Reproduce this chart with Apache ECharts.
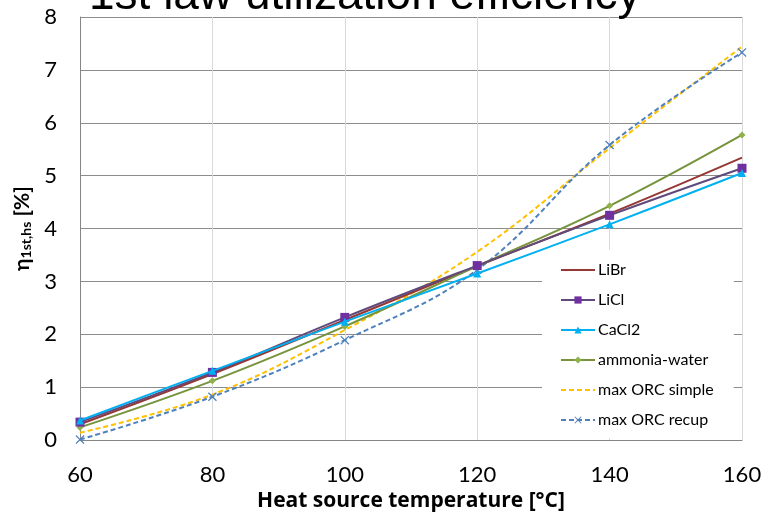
<!DOCTYPE html>
<html>
<head>
<meta charset="utf-8">
<script src="https://cdn.jsdelivr.net/npm/echarts@6/dist/echarts.min.js"></script>
<style>
html,body{margin:0;padding:0;background:#fff;}
#chart{width:765px;height:517px;}
</style>
</head>
<body>
<div id="chart"></div>
<script>
const temperatures = [60, 80, 100, 120, 140, 160];
const xTicks = [60, 80, 100, 120, 140, 160];
const yTicks = [0, 1, 2, 3, 4, 5, 6, 7, 8];
const libr = [0.30, 1.25, 2.27, 3.29, 4.28, 5.34];
const licl = [0.34, 1.28, 2.32, 3.30, 4.25, 5.14];
const cacl2 = [0.37, 1.31, 2.24, 3.15, 4.08, 5.05];
const ammoniaWater = [0.24, 1.12, 2.15, 3.29, 4.43, 5.77];
const orcSimple = [0.14, 0.86, 2.08, 3.56, 5.52, 7.44];
const orcRecup = [0.01, 0.82, 1.89, 3.22, 5.58, 7.33];
const seriesNames = ['LiBr', 'LiCl', 'CaCl2', 'ammonia-water', 'max ORC simple', 'max ORC recup'];

const pairs = (ys) => temperatures.map((t, i) => [t, ys[i]]);
const xSym = 'path://M0,1L1,0L5,4L9,0L10,1L6,5L10,9L9,10L5,6L1,10L0,9L4,5Z';
const font = 'Lato';
const noMarker = ['LiBr', 'max ORC simple'];

const chart = echarts.init(document.getElementById('chart'), null, {renderer: 'canvas'});
chart.setOption({
  animation: false,
  backgroundColor: '#fff',
  title: {
    text: '1st law utilization efficiency',
    left: 84, top: -32,
    textStyle: {fontFamily: 'Liberation Sans', fontSize: 46, fontWeight: 'normal', color: '#000'}
  },
  grid: {left: 80, right: 23, top: 17, bottom: 75, containLabel: false},
  legend: {
    orient: 'vertical',
    left: 542, top: 250,
    padding: [12, 20, 10, 18],
    backgroundColor: '#fff',
    itemWidth: 34, itemHeight: 9, itemGap: 14,
    textStyle: {fontFamily: font, fontSize: 16, lineHeight: 16, color: '#000', padding: [0, 0, 0, -2]},
    data: seriesNames.map(n => noMarker.includes(n) ? {name: n, itemStyle: {opacity: 0}} : {name: n})
  },
  xAxis: {
    type: 'value', min: 60, max: 160, interval: 20,
    name: 'Heat source temperature [°C]',
    nameLocation: 'middle', nameGap: 44,
    nameTextStyle: {fontFamily: 'Open Sans', fontSize: 21, fontWeight: 'bold', color: '#000'},
    axisLine: {show: true, lineStyle: {color: '#868686', width: 1}},
    axisTick: {show: false},
    axisLabel: {margin: 24, fontFamily: font, fontSize: 22, color: '#000',
      formatter: (v) => xTicks.includes(v) ? String(v) : ''},
    splitLine: {show: true, lineStyle: {color: '#d9d9d9', width: 1}}
  },
  yAxis: {
    type: 'value', min: 0, max: 8, interval: 1,
    name: '{a|η}{b|1st,hs}{a| [%]}',
    nameLocation: 'middle', nameGap: 44, nameRotate: 90,
    nameTextStyle: {
      rich: {
        a: {fontFamily: font, fontSize: 21, fontWeight: 'bold', color: '#000'},
        b: {fontFamily: font, fontSize: 14, fontWeight: 'bold', color: '#000', verticalAlign: 'bottom', padding: [8, 0, 0, 0]}
      }
    },
    axisLine: {show: true, lineStyle: {color: '#868686', width: 1}},
    axisTick: {show: false},
    axisLabel: {margin: 23, fontFamily: font, fontSize: 22, color: '#000',
      formatter: (v) => yTicks.includes(v) ? String(v) : ''},
    splitLine: {show: true, lineStyle: {color: '#8c8c8c', width: 1}}
  },
  series: [
    {name: 'LiBr', type: 'line', smooth: 0.4, data: pairs(libr), symbol: 'none',
      lineStyle: {color: '#953735', width: 2}, itemStyle: {color: '#953735'}, z: 3},
    {name: 'LiCl', type: 'line', smooth: 0.4, data: pairs(licl), symbol: 'rect', symbolSize: 9,
      lineStyle: {color: '#604a7b', width: 2}, itemStyle: {color: '#7030a0'}, z: 4},
    {name: 'CaCl2', type: 'line', smooth: 0.4, data: pairs(cacl2), symbol: 'triangle', symbolSize: 8,
      lineStyle: {color: '#00b0f0', width: 2}, itemStyle: {color: '#00b0f0'}, z: 5},
    {name: 'ammonia-water', type: 'line', smooth: 0.4, data: pairs(ammoniaWater), symbol: 'diamond', symbolSize: 7,
      lineStyle: {color: '#77933c', width: 2}, itemStyle: {color: '#8fb04a'}, z: 3},
    {name: 'max ORC simple', type: 'line', smooth: 0.4, data: pairs(orcSimple), symbol: 'none',
      lineStyle: {color: '#ffc000', width: 2, type: [5, 3]}, itemStyle: {color: '#ffc000'}, z: 2},
    {name: 'max ORC recup', type: 'line', smooth: 0.4, data: pairs(orcRecup), symbol: xSym, symbolSize: 9,
      lineStyle: {color: '#4f81bd', width: 2, type: [5, 3]}, itemStyle: {color: '#4f81bd'}, z: 2}
  ]
});
</script>
</body>
</html>
